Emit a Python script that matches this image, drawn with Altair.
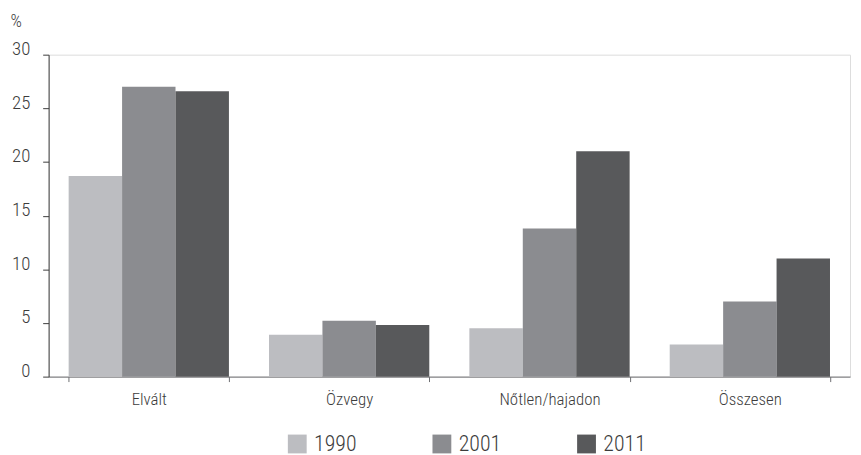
import altair as alt
import pandas as pd

categories = ["Elvált", "Özvegy", "Nőtlen/hajadon", "Összesen"]
years = ["1990", "2001", "2011"]
v1990 = [18.7, 3.9, 4.5, 3.0]
v2001 = [27.0, 5.2, 13.8, 7.0]
v2011 = [26.6, 4.8, 21.0, 11.0]
colors = ["#bcbdc1", "#8b8c90", "#58595b"]
y_ticks = [0, 5, 10, 15, 20, 25, 30]

rows = []
for yr, vals in zip(years, [v1990, v2001, v2011]):
    for c, v in zip(categories, vals):
        rows.append({"cat": c, "year": yr, "value": v})
df = pd.DataFrame(rows)

FONT = "Roboto Condensed, Liberation Sans Narrow, DejaVu Sans Condensed, sans-serif"
TXT = "#3c3c3c"
W = 300

chart = alt.Chart(df).mark_bar().encode(
    x=alt.X("cat:N", sort=categories,
            scale=alt.Scale(paddingInner=0.2, paddingOuter=0.1),
            axis=alt.Axis(title=None, labelAngle=0, tickBand="extent",
                          tickSize=5, labelPadding=10, labelBaseline="top",
                          labelFontSize=17, labelColor=TXT, labelFont=FONT, labelFontWeight=W,
                          domainColor="#6d6e71", tickColor="#6d6e71", grid=False)),
    xOffset=alt.XOffset("year:N", sort=years, scale=alt.Scale(paddingInner=0, paddingOuter=0)),
    y=alt.Y("value:Q", scale=alt.Scale(domain=[0, 30], nice=False),
            axis=alt.Axis(values=y_ticks, title="%", titleAngle=0, titleAlign="left",
                          titleBaseline="alphabetic", titleX=-39, titleY=-28,
                          titleFontSize=18, titleFontWeight=W, titleColor=TXT, titleFont=FONT,
                          tickSize=6, labelPadding=13, labelBaseline="alphabetic",
                          labelFontSize=19, labelColor=TXT, labelFont=FONT, labelFontWeight=W,
                          domainColor="#3c3c3c", tickColor="#3c3c3c", grid=False)),
    color=alt.Color("year:N", sort=years, scale=alt.Scale(domain=years, range=colors),
                    legend=alt.Legend(title=None, orient="none", direction="horizontal",
                                      legendX=240, legendY=382, symbolType="square",
                                      symbolSize=361, symbolStrokeWidth=0, labelOffset=6,
                                      columnPadding=75, padding=0,
                                      labelFontSize=22, labelColor=TXT, labelFont=FONT,
                                      labelFontWeight=W)),
).properties(
    width=809, height=325,
    autosize=alt.AutoSizeParams(type="none"),
    padding={"left": 41, "top": 45, "right": 3, "bottom": 77},
).configure_view(stroke=None).configure(font=FONT)

chart.save("out.html", embed_options={"renderer": "svg", "actions": False})
